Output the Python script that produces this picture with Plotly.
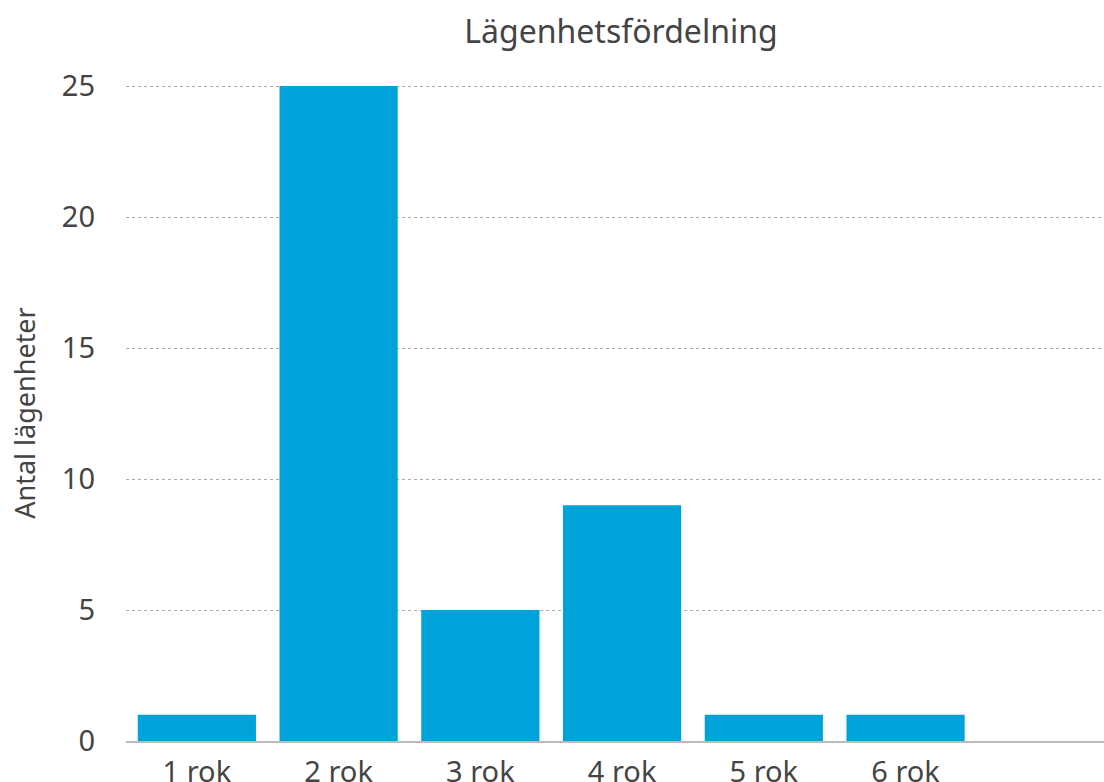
import plotly.graph_objects as go

categories = ["1 rok", "2 rok", "3 rok", "4 rok", "5 rok", "6 rok"]
values = [1, 25, 5, 9, 1, 1]
y_ticks = [0, 5, 10, 15, 20, 25]

font = "'Noto Sans', 'Open Sans', sans-serif"
fig = go.Figure(go.Bar(x=categories, y=values, marker_color="#00A3D9",
                       marker_line_width=0))
fig.update_layout(
    width=1104, height=782,
    margin=dict(l=126, r=0, t=85, b=41, autoexpand=False),
    paper_bgcolor="white", plot_bgcolor="white",
    bargap=0.166,
    showlegend=False,
    title=dict(text="Lägenhetsfördelning", x=0.5625, xanchor="center",
               y=1 - 32 / 782, yanchor="middle",
               font=dict(family=font, size=32, color="#444444")),
    font=dict(family=font, size=29, color="#444444"),
)
fig.update_xaxes(range=[-0.5, 6.4], showgrid=False, showline=True,
                 linecolor="#BBBBBB", linewidth=2, ticks="", ticklen=0,
                 ticklabelstandoff=4,
                 tickfont=dict(size=29, color="#444444"), automargin=False)
fig.update_yaxes(range=[0, 25.04], tickvals=y_ticks, showgrid=True,
                 gridcolor="#AAAAAA", griddash="dot", gridwidth=1,
                 zeroline=False, showline=False, ticks="",
                 ticklabelstandoff=30,
                 tickfont=dict(size=29, color="#444444"), automargin=False,
                 title=dict(text="Antal lägenheter", standoff=18,
                            font=dict(size=27, color="#444444")))
fig.write_html("out.html")
